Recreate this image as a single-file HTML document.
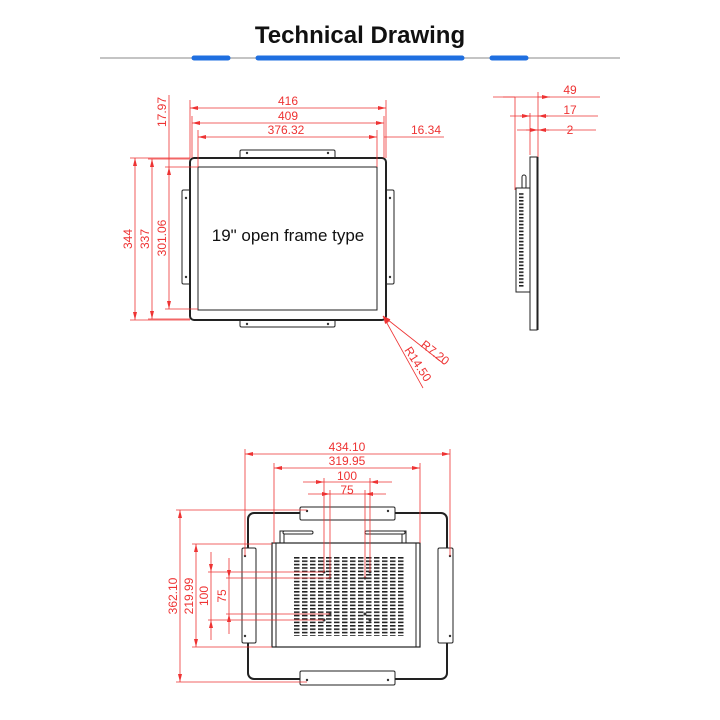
<!DOCTYPE html>
<html><head><meta charset="utf-8"><style>html,body{margin:0;padding:0;background:#fff}svg{display:block}</style></head><body>
<svg width="720" height="720" viewBox="0 0 720 720" xmlns="http://www.w3.org/2000/svg" font-family="Liberation Sans, sans-serif">
<defs>
<marker id="a" markerWidth="8" markerHeight="4" refX="8" refY="2" orient="auto-start-reverse" markerUnits="userSpaceOnUse"><path d="M0,0 L8,2 L0,4z" fill="#e33"/></marker>
<pattern id="v" x="294" y="557" width="8" height="3.4" patternUnits="userSpaceOnUse"><rect width="5.5" height="1.6" fill="#222"/></pattern>
</defs>
<text x="360" y="43" text-anchor="middle" font-size="24" font-weight="bold" fill="#111">Technical Drawing</text>
<line x1="100" y1="58" x2="620" y2="58" stroke="#888" stroke-width="1"/>
<g stroke="#1f6fe0" stroke-width="5" stroke-linecap="round"><line x1="194" y1="58" x2="228" y2="58"/><line x1="258" y1="58" x2="462" y2="58"/><line x1="492" y1="58" x2="526" y2="58"/></g>

<g fill="#fff" stroke="#222">
<rect x="240" y="150" width="95" height="9" rx="1.5" stroke-width="1"/>
<rect x="240" y="318" width="95" height="9" rx="1.5" stroke-width="1"/>
<rect x="182" y="190" width="9" height="94" rx="1.5" stroke-width="1"/>
<rect x="385" y="190" width="9" height="94" rx="1.5" stroke-width="1"/>
<rect x="190" y="158" width="196" height="162" rx="4" stroke-width="2"/>
<rect x="198" y="167" width="179" height="143" stroke-width="1"/>
</g>
<g fill="#333"><circle cx="247" cy="153" r="1.2"/><circle cx="328" cy="153" r="1.2"/><circle cx="247" cy="324" r="1.2"/><circle cx="328" cy="324" r="1.2"/><circle cx="186" cy="198" r="1.2"/><circle cx="186" cy="277" r="1.2"/><circle cx="390" cy="198" r="1.2"/><circle cx="390" cy="277" r="1.2"/></g>
<text x="288" y="241" text-anchor="middle" font-size="17" fill="#111">19" open frame type</text>
<g stroke="#e33" stroke-width="0.8" fill="none">
<line x1="190" y1="100" x2="190" y2="158"/><line x1="386" y1="100" x2="386" y2="158"/>
<line x1="192" y1="116" x2="192" y2="158"/><line x1="384" y1="116" x2="384" y2="158"/>
<line x1="198" y1="130" x2="198" y2="167"/><line x1="377" y1="130" x2="377" y2="167"/>
<line x1="190" y1="108" x2="386" y2="108" marker-start="url(#a)" marker-end="url(#a)"/>
<line x1="192" y1="123" x2="384" y2="123" marker-start="url(#a)" marker-end="url(#a)"/>
<line x1="198" y1="137" x2="377" y2="137" marker-start="url(#a)" marker-end="url(#a)"/>
<line x1="384" y1="137" x2="444" y2="137"/>
<line x1="130" y1="158" x2="190" y2="158"/><line x1="148" y1="159" x2="190" y2="159"/>
<line x1="165" y1="167" x2="198" y2="167"/><line x1="165" y1="309" x2="198" y2="309"/>
<line x1="130" y1="320" x2="190" y2="320"/><line x1="148" y1="319" x2="190" y2="319"/>
<line x1="135" y1="158" x2="135" y2="320" marker-start="url(#a)" marker-end="url(#a)"/>
<line x1="152" y1="159" x2="152" y2="319" marker-start="url(#a)" marker-end="url(#a)"/>
<line x1="169" y1="167" x2="169" y2="309" marker-start="url(#a)" marker-end="url(#a)"/>
<line x1="169" y1="95" x2="169" y2="167"/>
<line x1="383" y1="316" x2="444" y2="364" marker-start="url(#a)"/>
<line x1="383" y1="316" x2="423" y2="388" marker-start="url(#a)"/>
</g>
<g fill="#e33" font-size="12">
<text x="288" y="105" text-anchor="middle">416</text>
<text x="288" y="120" text-anchor="middle">409</text>
<text x="286" y="134" text-anchor="middle">376.32</text>
<text x="426" y="134" text-anchor="middle">16.34</text>
<text transform="translate(132,239) rotate(-90)" text-anchor="middle">344</text>
<text transform="translate(149,239) rotate(-90)" text-anchor="middle">337</text>
<text transform="translate(166,238) rotate(-90)" text-anchor="middle">301.06</text>
<text transform="translate(166,112) rotate(-90)" text-anchor="middle">17.97</text>
<text transform="translate(420,346) rotate(38)">R7.20</text>
<text transform="translate(404,350) rotate(57)">R14.50</text>
</g>

<g stroke="#e33" stroke-width="0.8" fill="none">
<line x1="493" y1="97" x2="600" y2="97"/><line x1="510" y1="116" x2="598" y2="116"/><line x1="517" y1="130" x2="596" y2="130"/>
<line x1="515" y1="97" x2="515" y2="190"/><line x1="530" y1="113" x2="530" y2="155"/><line x1="538" y1="92" x2="538" y2="158"/>
<path d="M503,97 L515,97 M538,97 L550,97" marker-end="url(#a)"/>
<line x1="520" y1="116" x2="530" y2="116" marker-end="url(#a)"/><line x1="548" y1="116" x2="538" y2="116" marker-end="url(#a)"/>
<line x1="526" y1="130" x2="538" y2="130" marker-end="url(#a)"/><line x1="549" y1="130" x2="538" y2="130" marker-end="url(#a)"/>
</g>
<g fill="#e33" font-size="12"><text x="570" y="94" text-anchor="middle">49</text><text x="570" y="114" text-anchor="middle">17</text><text x="570" y="134" text-anchor="middle">2</text></g>
<g fill="#fff" stroke="#222" stroke-width="1">
<rect x="530" y="157" width="7" height="173"/><line x1="538" y1="157" x2="538" y2="330"/>
<rect x="522" y="175" width="4" height="14" rx="2"/>
<rect x="516" y="188" width="14" height="104"/>
</g>
<rect x="519" y="193" width="6" height="94" fill="url(#v)"/>

<g fill="#fff" stroke="#222">
<rect x="248" y="513" width="199" height="166" rx="6" stroke-width="2"/>
<rect x="300" y="507" width="95" height="13" rx="1.5" stroke-width="1"/>
<rect x="300" y="671" width="95" height="14" rx="1.5" stroke-width="1"/>
<rect x="242" y="548" width="14" height="95" rx="1.5" stroke-width="1"/>
<rect x="438" y="548" width="15" height="95" rx="1.5" stroke-width="1"/>
<rect x="280" y="531" width="4" height="14" stroke-width="1"/><rect x="283" y="531" width="30" height="3" rx="1.5" stroke-width="1"/>
<rect x="402" y="531" width="4" height="14" stroke-width="1"/><rect x="365" y="531" width="40" height="3" rx="1.5" stroke-width="1"/>
<rect x="272" y="543" width="148" height="104" stroke-width="1.2"/>
<line x1="276" y1="543" x2="276" y2="647" stroke-width="1"/><line x1="416" y1="543" x2="416" y2="647" stroke-width="1"/>
</g>
<rect x="294" y="557" width="112" height="79" fill="url(#v)"/>
<g fill="#333"><circle cx="307" cy="511" r="1.2"/><circle cx="388" cy="511" r="1.2"/><circle cx="307" cy="680" r="1.2"/><circle cx="388" cy="680" r="1.2"/><circle cx="245" cy="556" r="1.2"/><circle cx="245" cy="636" r="1.2"/><circle cx="450" cy="556" r="1.2"/><circle cx="450" cy="636" r="1.2"/><circle cx="324" cy="572" r="1.5"/><circle cx="370" cy="572" r="1.5"/><circle cx="330" cy="578" r="1.5"/><circle cx="365" cy="578" r="1.5"/><circle cx="330" cy="614" r="1.5"/><circle cx="365" cy="614" r="1.5"/><circle cx="324" cy="620" r="1.5"/><circle cx="370" cy="620" r="1.5"/></g>
<g stroke="#e33" stroke-width="0.8" fill="none">
<line x1="245" y1="449" x2="245" y2="556"/><line x1="450" y1="449" x2="450" y2="556"/>
<line x1="274" y1="463" x2="274" y2="543"/><line x1="420" y1="463" x2="420" y2="543"/>
<line x1="324" y1="478" x2="324" y2="572"/><line x1="370" y1="478" x2="370" y2="572"/>
<line x1="330" y1="490" x2="330" y2="578"/><line x1="365" y1="490" x2="365" y2="578"/>
<line x1="245" y1="454" x2="450" y2="454" marker-start="url(#a)" marker-end="url(#a)"/>
<line x1="274" y1="468" x2="420" y2="468" marker-start="url(#a)" marker-end="url(#a)"/>
<line x1="303" y1="482" x2="324" y2="482" marker-end="url(#a)"/><line x1="392" y1="482" x2="370" y2="482" marker-end="url(#a)"/><line x1="324" y1="482" x2="370" y2="482"/>
<line x1="308" y1="494" x2="330" y2="494" marker-end="url(#a)"/><line x1="386" y1="494" x2="365" y2="494" marker-end="url(#a)"/><line x1="330" y1="494" x2="365" y2="494"/>
<line x1="176" y1="510" x2="307" y2="510"/><line x1="176" y1="682" x2="307" y2="682"/>
<line x1="192" y1="544" x2="272" y2="544"/><line x1="192" y1="647" x2="272" y2="647"/>
<line x1="208" y1="572" x2="324" y2="572"/><line x1="208" y1="620" x2="324" y2="620"/>
<line x1="226" y1="578" x2="330" y2="578"/><line x1="226" y1="614" x2="330" y2="614"/>
<line x1="180" y1="510" x2="180" y2="682" marker-start="url(#a)" marker-end="url(#a)"/>
<line x1="196" y1="544" x2="196" y2="647" marker-start="url(#a)" marker-end="url(#a)"/>
<line x1="211" y1="552" x2="211" y2="572" marker-end="url(#a)"/><line x1="211" y1="640" x2="211" y2="620" marker-end="url(#a)"/><line x1="211" y1="572" x2="211" y2="620"/>
<line x1="229" y1="558" x2="229" y2="578" marker-end="url(#a)"/><line x1="229" y1="634" x2="229" y2="614" marker-end="url(#a)"/><line x1="229" y1="578" x2="229" y2="614"/>
</g>
<g fill="#e33" font-size="12">
<text x="347" y="451" text-anchor="middle">434.10</text>
<text x="347" y="465" text-anchor="middle">319.95</text>
<text x="347" y="480" text-anchor="middle">100</text>
<text x="347" y="494" text-anchor="middle">75</text>
<text transform="translate(177,596) rotate(-90)" text-anchor="middle">362.10</text>
<text transform="translate(193,596) rotate(-90)" text-anchor="middle">219.99</text>
<text transform="translate(208,596) rotate(-90)" text-anchor="middle">100</text>
<text transform="translate(226,596) rotate(-90)" text-anchor="middle">75</text>
</g>
</svg>
</body></html>
